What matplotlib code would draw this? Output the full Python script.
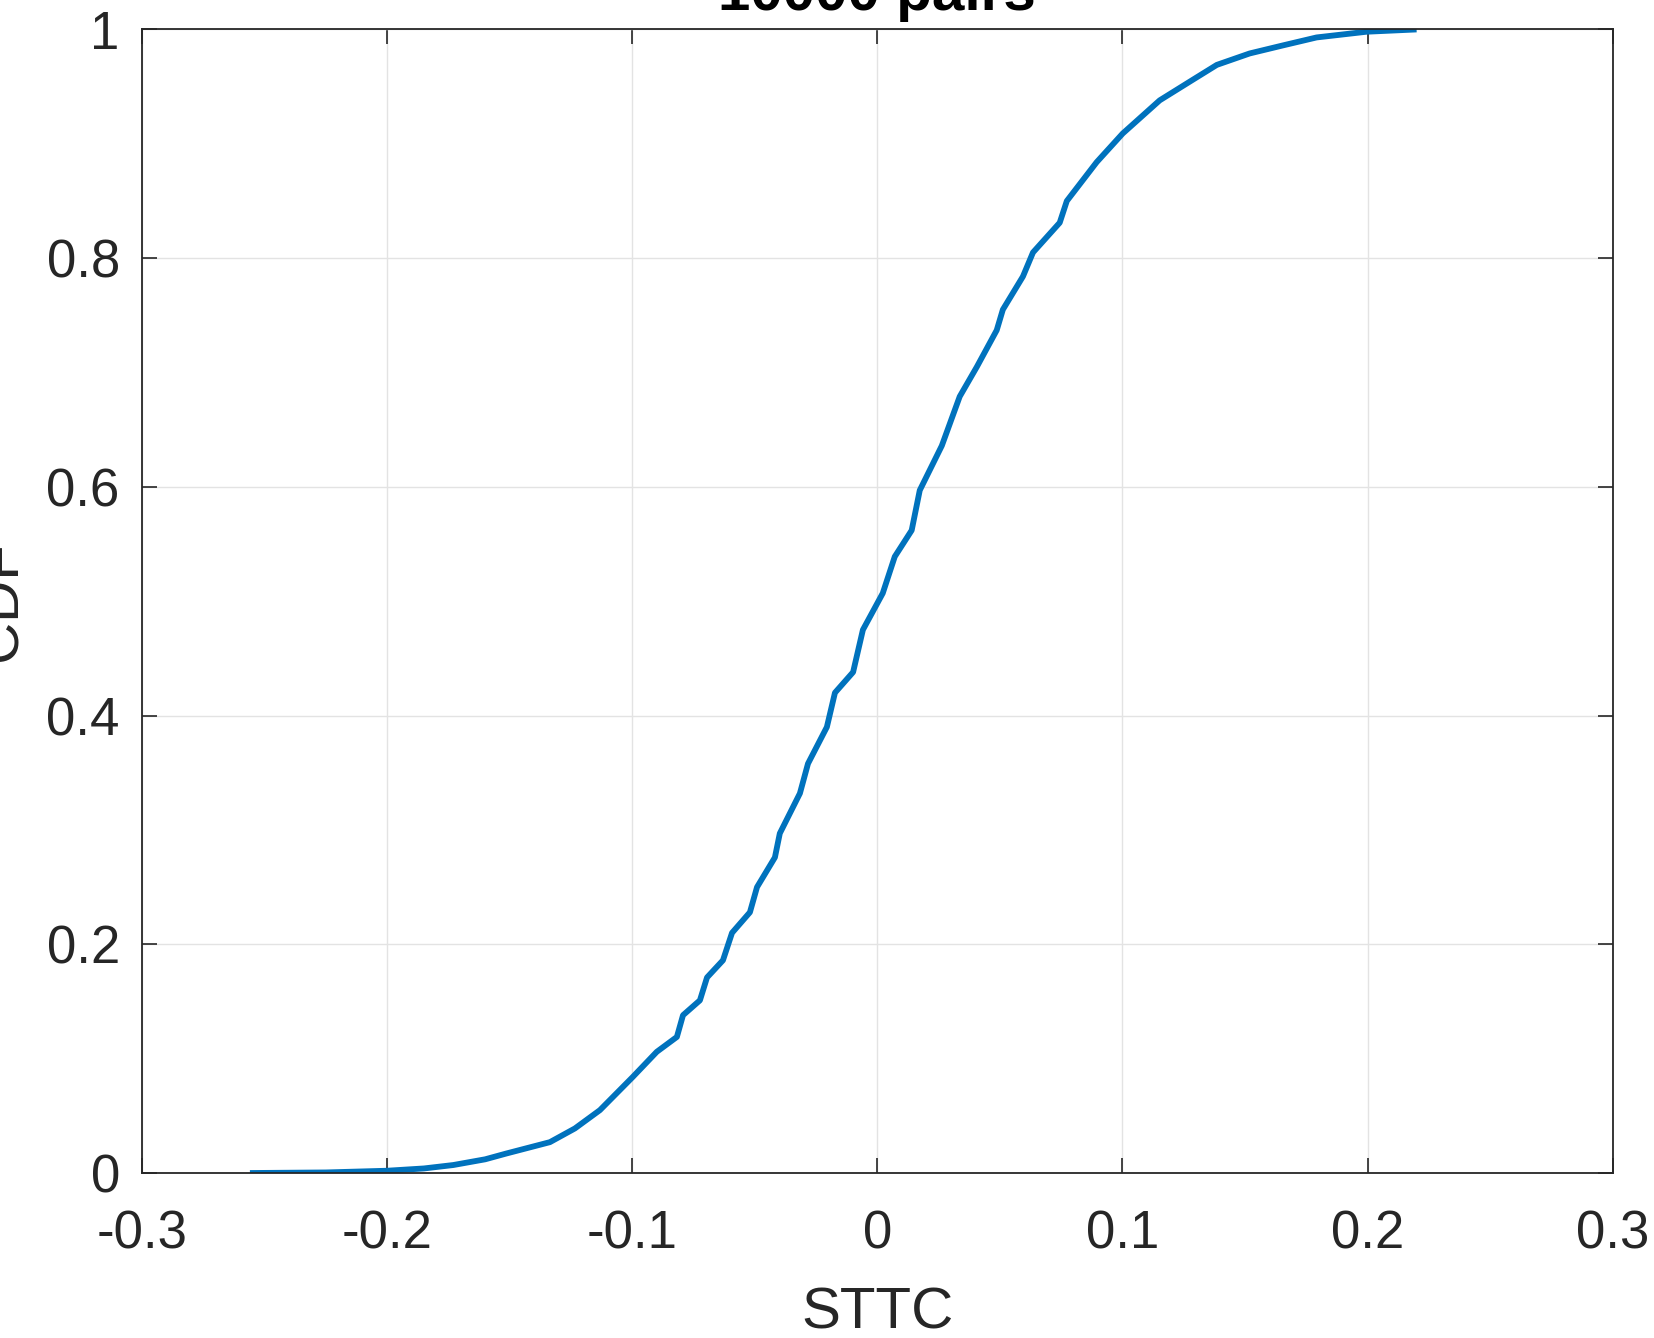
#!/usr/bin/env python3
"""
CDF of STTC values over neuron pairs
"""

import matplotlib
matplotlib.use("Agg")
import matplotlib.pyplot as plt

# curve points
sttc = [-0.256, -0.225, -0.200, -0.185, -0.173, -0.160, -0.1515, -0.1336,
        -0.1234, -0.1132, -0.0998, -0.090, -0.0818, -0.0793, -0.0724, -0.0695,
        -0.063, -0.0593, -0.052, -0.0491, -0.0418, -0.0398, -0.0316, -0.0283,
        -0.0206, -0.0173, -0.0099, -0.0059, 0.0022, 0.0071, 0.014, 0.0173,
        0.0263, 0.0336, 0.0406, 0.0487, 0.0512, 0.0594, 0.0635, 0.0744,
        0.0773, 0.0895, 0.1001, 0.1152, 0.1287, 0.1385, 0.1519, 0.1654,
        0.1792, 0.1996, 0.220]
cdf = [0.0, 0.0005, 0.002, 0.004, 0.007, 0.012, 0.017, 0.027,
       0.039, 0.055, 0.084, 0.106, 0.119, 0.138, 0.151, 0.171,
       0.186, 0.210, 0.228, 0.250, 0.276, 0.297, 0.332, 0.358,
       0.390, 0.420, 0.438, 0.475, 0.507, 0.539, 0.562, 0.597,
       0.636, 0.679, 0.705, 0.737, 0.755, 0.784, 0.805, 0.831,
       0.850, 0.884, 0.909, 0.938, 0.956, 0.969, 0.979, 0.986,
       0.993, 0.998, 1.0]

xticks = [-0.3, -0.2, -0.1, 0, 0.1, 0.2, 0.3]
xticklabels = ['-0.3', '-0.2', '-0.1', '0', '0.1', '0.2', '0.3']
yticks = [0, 0.2, 0.4, 0.6, 0.8, 1]
yticklabels = ['0', '0.2', '0.4', '0.6', '0.8', '1']

plt.rcParams['font.family'] = ['Liberation Sans', 'DejaVu Sans']

fig = plt.figure(figsize=(16.54, 13.38), dpi=100)
ax = fig.add_axes([0.0859, 0.1233, 0.975 - 0.0859, 0.978 - 0.1233])

ax.plot(sttc, cdf, color='#0072BD', linewidth=4.2, solid_capstyle='butt',
        solid_joinstyle='round')

ax.set_xlim(-0.3, 0.3)
ax.set_ylim(0, 1)
ax.set_xticks(xticks)
ax.set_xticklabels(xticklabels)
ax.set_yticks(yticks)
ax.set_yticklabels(yticklabels)

ax.tick_params(direction='in', length=11, width=1.2, colors='#262626',
               labelsize=38, top=True, right=True)
ax.tick_params(axis='x', pad=26)
ax.tick_params(axis='y', pad=16)
for s in ax.spines.values():
    s.set_color('#262626')
    s.set_linewidth(1.3)

ax.grid(True, color='#e3e3e3', linewidth=1.0)
ax.set_axisbelow(True)

ax.set_xlabel('STTC', fontsize=42, color='#262626', labelpad=20)
ax.set_ylabel('CDF', fontsize=42, color='#262626')
ax.yaxis.set_label_coords(-0.077, 0.5)
ax.set_title('10000 pairs', fontsize=42, fontweight='bold', pad=14)

fig.savefig('out.png', dpi=100)
